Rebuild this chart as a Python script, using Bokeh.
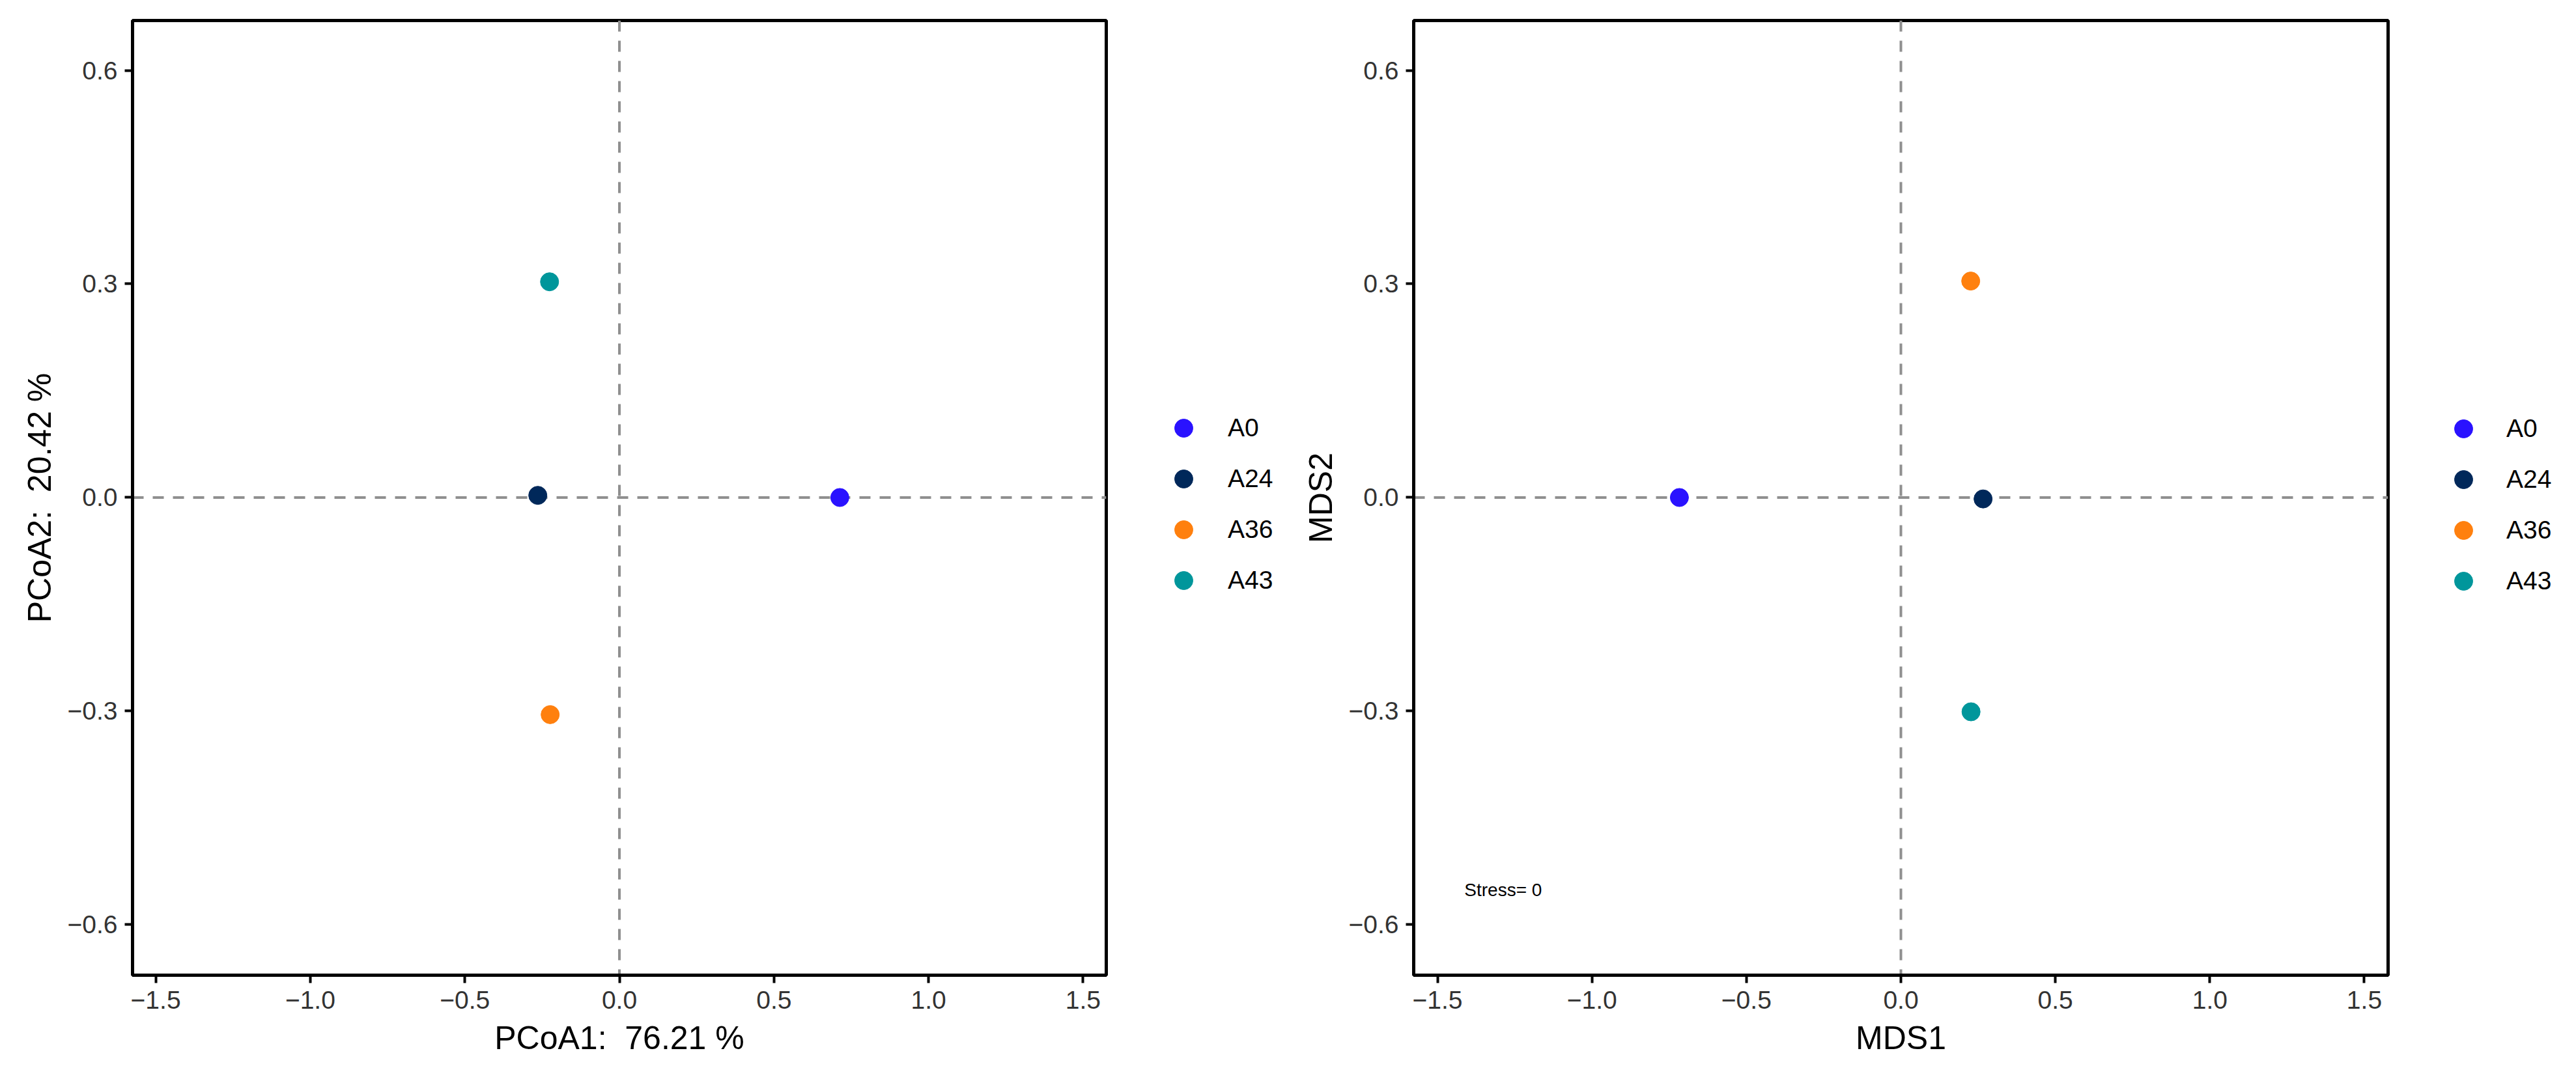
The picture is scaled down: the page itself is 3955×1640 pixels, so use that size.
from bokeh.plotting import figure
from bokeh.models import Span, Legend, LegendItem, FixedTicker, ColumnDataSource, Label
from bokeh.layouts import row
from bokeh.embed import file_html
from bokeh.resources import INLINE

# ---- data ----
groups = ["A0", "A24", "A36", "A43"]
colors = ["#2A12FF", "#00285A", "#FF800E", "#00969B"]
pcoa1 = [0.713, -0.264, -0.224, -0.226]
pcoa2 = [0.000, 0.003, -0.305, 0.303]
mds1 = [-0.717, 0.266, 0.226, 0.227]
mds2 = [0.000, -0.002, 0.304, -0.301]

x_ticks = [-1.5, -1.0, -0.5, 0.0, 0.5, 1.0, 1.5]
x_tick_labels = ["\u22121.5", "\u22121.0", "\u22120.5", "0.0", "0.5", "1.0", "1.5"]
y_ticks = [-0.6, -0.3, 0.0, 0.3, 0.6]
y_tick_labels = ["\u22120.6", "\u22120.3", "0.0", "0.3", "0.6"]

pcoa_xlabel = "PCoA1:\u00a0 76.21 %"
pcoa_ylabel = "PCoA2:\u00a0 20.42 %"
nmds_xlabel = "MDS1"
nmds_ylabel = "MDS2"
stress_text = "Stress= 0"
stress_x, stress_y = -1.413, -0.551

FONT = "Liberation Sans"


def make_panel(xs, ys, xlabel, ylabel, xr, yr, frame_w, mb_left, leg_loc, standoff):
    src = ColumnDataSource(dict(x=xs, y=ys, g=groups, c=colors))
    p = figure(frame_width=frame_w, frame_height=1466, x_range=xr, y_range=yr,
               output_backend="svg", toolbar_location=None,
               min_border_left=mb_left, min_border_right=10,
               min_border_top=31, min_border_bottom=120,
               background_fill_color="white", border_fill_color="white")
    p.grid.visible = False
    p.outline_line_color = "black"
    p.outline_line_width = 5
    p.outline_line_alpha = 1.0

    for dim in ("width", "height"):
        p.add_layout(Span(location=0, dimension=dim, line_color="#8f8f8f",
                          line_width=4, line_dash="17 14", level="underlay"))

    r = p.scatter("x", "y", source=src, size=28, fill_color="c", line_color="c",
                  line_width=1)

    p.xaxis.ticker = FixedTicker(ticks=x_ticks)
    p.yaxis.ticker = FixedTicker(ticks=y_ticks)
    p.xaxis.major_label_overrides = dict(zip(x_ticks, x_tick_labels))
    p.yaxis.major_label_overrides = dict(zip(y_ticks, y_tick_labels))
    for ax in (p.xaxis[0], p.yaxis[0]):
        ax.axis_line_color = "black"
        ax.axis_line_width = 5
        ax.major_tick_line_color = "black"
        ax.major_tick_line_width = 4
        ax.major_tick_out = 12
        ax.major_tick_in = 0
        ax.minor_tick_line_color = None
        ax.major_label_text_font = FONT
        ax.major_label_text_font_size = "39px"
        ax.major_label_text_color = "#333333"
        ax.axis_label_text_font = FONT
        ax.axis_label_text_font_size = "50px"
        ax.axis_label_text_font_style = "normal"
        ax.axis_label_text_color = "black"
    p.xaxis.axis_label = xlabel
    p.yaxis.axis_label = ylabel
    p.xaxis.major_label_standoff = 12
    p.yaxis.major_label_standoff = 11
    p.xaxis.axis_label_standoff = 14
    p.yaxis.axis_label_standoff = 12

    items = [LegendItem(label=g, renderers=[r], index=i) for i, g in enumerate(groups)]
    leg = Legend(items=items, location=leg_loc, orientation="vertical",
                 glyph_width=70, glyph_height=70, spacing=8,
                 label_standoff=standoff, padding=0, margin=0,
                 border_line_color=None, background_fill_alpha=0,
                 label_text_font=FONT, label_text_font_size="39px",
                 label_text_color="black")
    p.add_layout(leg, "right")
    return p


p1 = make_panel(pcoa1, pcoa2, pcoa_xlabel, pcoa_ylabel, (-1.575, 1.575), (-0.671, 0.670),
                1495, 203, (84, 571), 33)
p2 = make_panel(mds1, mds2, nmds_xlabel, nmds_ylabel, (-1.577, 1.577), (-0.671, 0.670),
                1496, 174, (81, 570), 31)
p2.border_fill_alpha = 0
p2.add_layout(Label(x=stress_x, y=stress_y, text=stress_text, text_font=FONT,
                    text_font_size="28px", text_baseline="middle", text_align="left",
                    text_color="black"))
# the legend side panel of the first plot is wider than needed; let the second
# plot start where the reference's second panel starts
p2.styles = {"margin-left": "-304px"}

layout = row(p1, p2)
open("out.html", "w").write(file_html(layout, INLINE))
